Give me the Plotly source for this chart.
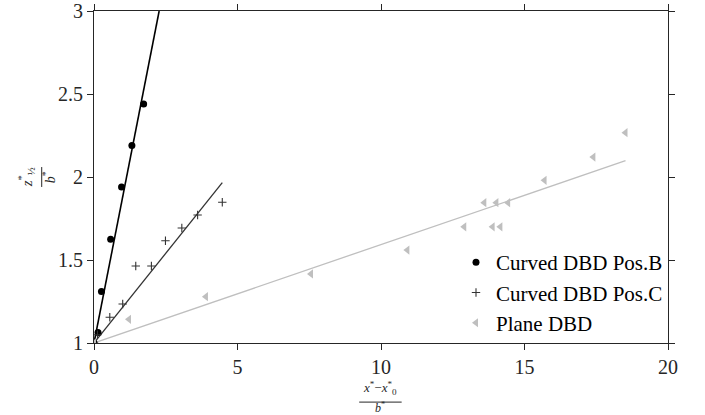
import plotly.graph_objects as go

# ---- data ----
pos_b_x = [0.0, 0.14, 0.26, 0.58, 0.96, 1.32, 1.73]
pos_b_y = [1.0, 1.064, 1.31, 1.625, 1.94, 2.19, 2.44]

pos_c_x = [0.0, 0.12, 0.55, 1.0, 1.455, 2.0, 2.49, 3.06, 3.61, 4.47]
pos_c_y = [1.0, 1.05, 1.155, 1.235, 1.464, 1.464, 1.616, 1.693, 1.771, 1.848]

plane_x = [0.0, 1.22, 3.9, 7.56, 10.92, 12.9, 13.6, 13.89, 14.02, 14.16, 14.43, 15.7, 17.4, 18.52]
plane_y = [1.0, 1.143, 1.279, 1.416, 1.56, 1.70, 1.845, 1.70, 1.845, 1.70, 1.845, 1.98, 2.12, 2.267]

fit_b_x = [0.0, 2.27]
fit_b_y = [1.0, 3.0]
fit_c_x = [0.0, 4.47]
fit_c_y = [1.0, 1.966]
fit_p_x = [0.0, 18.52]
fit_p_y = [1.0, 2.098]

x_ticks = [0, 5, 10, 15, 20]
y_ticks = [1, 1.5, 2, 2.5, 3]
y_tick_labels = ["1", "1.5", "2", "2.5", "3"]

FONT = "Liberation Serif, DejaVu Serif, Times New Roman, serif"
AX = "#262626"
BLACK = "#000000"
DARK = "#333333"
GREY = "#bfbfbf"

fig = go.Figure()

fig.add_trace(go.Scatter(x=fit_p_x, y=fit_p_y, mode="lines",
                         line=dict(color=GREY, width=1.3), showlegend=False, hoverinfo="skip"))
fig.add_trace(go.Scatter(x=fit_c_x, y=fit_c_y, mode="lines",
                         line=dict(color=DARK, width=1.3), showlegend=False, hoverinfo="skip"))
fig.add_trace(go.Scatter(x=fit_b_x, y=fit_b_y, mode="lines",
                         line=dict(color=BLACK, width=1.6), showlegend=False, hoverinfo="skip"))

fig.add_trace(go.Scatter(x=pos_b_x, y=pos_b_y, mode="markers", name="Curved DBD Pos.B",
                         marker=dict(symbol="circle", size=7, color=BLACK)))
fig.add_trace(go.Scatter(x=pos_c_x, y=pos_c_y, mode="markers", name="Curved DBD Pos.C",
                         marker=dict(symbol="cross-thin", size=6, color=DARK,
                                     line=dict(color=DARK, width=1.1))))
fig.add_trace(go.Scatter(x=plane_x, y=plane_y, mode="markers", name="Plane DBD",
                         marker=dict(symbol="triangle-left", size=8, color=GREY)))

axis_common = dict(
    showgrid=False, zeroline=False, showline=True, linecolor=AX, linewidth=1,
    mirror="ticks", ticks="outside", ticklen=6, tickcolor=AX, tickwidth=1,
    tickfont=dict(family=FONT, size=20, color=AX),
)

fig.update_xaxes(range=[0, 20], tickvals=x_ticks, ticktext=[str(v) for v in x_ticks], **axis_common)
fig.update_yaxes(range=[1, 3], tickvals=y_ticks, ticktext=y_tick_labels, **axis_common)

# x-axis title as a fraction
fig.add_annotation(xref="paper", yref="paper", x=0.499, y=-0.137, yanchor="middle",
                   text="<i>x</i><sup>*</sup>\u2212<i>x</i><sup>*</sup><sub>0</sub>",
                   showarrow=False, font=dict(family=FONT, size=13, color=AX))
fig.add_shape(type="line", xref="paper", yref="paper", x0=0.462, x1=0.536, y0=-0.178, y1=-0.178,
              line=dict(color=AX, width=1))
fig.add_annotation(xref="paper", yref="paper", x=0.499, y=-0.195, yanchor="middle",
                   text="<i>b</i><sup>*</sup>",
                   showarrow=False, font=dict(family=FONT, size=12, color=AX))

# y-axis title as a rotated fraction
fig.add_annotation(xref="paper", yref="paper", x=-0.118, y=0.5, xanchor="center", yanchor="middle",
                   text="<i>z</i><sup>*</sup><sub>\u00bd</sub>", textangle=-90,
                   showarrow=False, font=dict(family=FONT, size=15, color=AX))
fig.add_shape(type="line", xref="paper", yref="paper", x0=-0.0911, x1=-0.0911, y0=0.47, y1=0.53,
              line=dict(color=AX, width=1))
fig.add_annotation(xref="paper", yref="paper", x=-0.078, y=0.5, xanchor="center", yanchor="middle",
                   text="<i>b</i><sup>*</sup>", textangle=-90,
                   showarrow=False, font=dict(family=FONT, size=14, color=AX))

fig.update_layout(
    width=705, height=415,
    margin=dict(l=94, r=37, t=11, b=72, autoexpand=False),
    paper_bgcolor="white", plot_bgcolor="white",
    font=dict(family=FONT, color=AX),
    legend=dict(x=1.0, y=0.0, xanchor="right", yanchor="bottom",
                bgcolor="rgba(0,0,0,0)", font=dict(family=FONT, size=21, color=BLACK),
                itemwidth=30, tracegroupgap=0),
    showlegend=True,
)

fig.write_html("out.html", config={"displayModeBar": False},
               post_script="document.body.style.margin='0';document.body.style.overflow='hidden';")
